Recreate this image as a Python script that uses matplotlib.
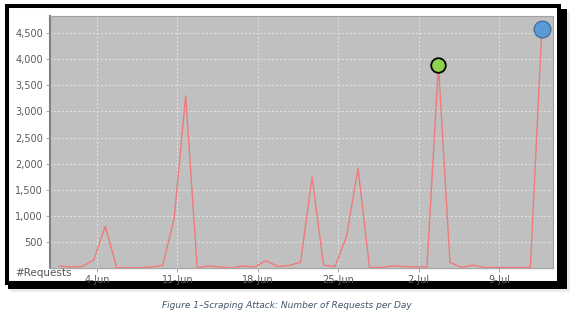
import matplotlib.pyplot as plt
import matplotlib.patches as mpatches
import datetime as dt

# Requests per day, 1-Jun to 13-Jul
start = dt.datetime(2017, 6, 1)
requests = [38, 20, 30, 155, 800, 5, 5, 5, 20, 50,
            950, 3300, 5, 40, 20, 0, 40, 20, 140, 30,
            50, 110, 1745, 55, 30, 610, 1905, 10, 10, 40,
            30, 20, 15, 3900, 110, 10, 55, 10, 10, 10,
            10, 10, 4580]
days = [start + dt.timedelta(days=i) for i in range(len(requests))]
tick_labels = ['4-Jun', '11-Jun', '18-Jun', '25-Jun', '2-Jul', '9-Jul']
tick_days = [start + dt.timedelta(days=3.28 + 7 * k) for k in range(len(tick_labels))]
y_ticks = [500, 1000, 1500, 2000, 2500, 3000, 3500, 4000, 4500]

W, H = 574, 317
fig = plt.figure(figsize=(W / 100, H / 100), dpi=100, facecolor='white')

def fig_rect(x0, y0, x1, y1, **kw):
    # rectangle in pixel coords (origin top-left)
    return mpatches.Rectangle((x0 / W, 1 - y1 / H), (x1 - x0) / W, (y1 - y0) / H,
                              transform=fig.transFigure, **kw)

# black frame with a drop shadow
fig.patches.extend([
    fig_rect(10, 12, 570, 292, facecolor='#ececec', edgecolor='none', zorder=0),
    fig_rect(8, 9, 567, 289, facecolor='black', edgecolor='none', zorder=0),
    fig_rect(7, 6, 559, 283, facecolor='white', edgecolor='black',
             linewidth=2.9, zorder=1),
])

ax = fig.add_axes([50 / W, 49 / H, 503 / W, 252 / H], zorder=2)
ax.set_facecolor('#c0c0c0')

ax.plot(days, requests, color='#f07a7a', linewidth=1.0, zorder=3)
ax.plot(days[33], requests[33], 'o', markersize=10.5, markerfacecolor='#8fd14f',
        markeredgecolor='black', markeredgewidth=1.3, zorder=4)
ax.plot(days[42], requests[42], 'o', markersize=12, markerfacecolor='#5b9bd5',
        markeredgecolor='#41719c', markeredgewidth=1.0, zorder=4, clip_on=False)

ax.set_xlim(start - dt.timedelta(days=0.81), start + dt.timedelta(days=42.97))
ax.set_ylim(0, 4830)
ax.set_xticks(tick_days)
ax.set_xticklabels(tick_labels)
ax.set_yticks(y_ticks)
ax.set_yticklabels([f'{v:,}' for v in y_ticks])

ax.grid(True, color='#e4e4e4', linestyle=(0, (2, 2)), linewidth=0.7)
ax.set_axisbelow(True)
ax.tick_params(axis='both', labelsize=7, colors='#5a5a5a', length=3,
               width=0.6, pad=2)
ax.tick_params(axis='y', color='#999999')
ax.tick_params(axis='x', color='#999999', pad=2)

for side in ['top', 'right']:
    ax.spines[side].set_color('#a0a0a0')
    ax.spines[side].set_linewidth(0.8)
ax.spines['left'].set_color('#808080')
ax.spines['left'].set_linewidth(1.5)
ax.spines['bottom'].set_color('#a8a8a8')
ax.spines['bottom'].set_linewidth(1.0)

fig.text(15 / W, 1 - 273 / H, '#Requests', fontsize=7.5, color='#555555',
         va='center', ha='left', zorder=3)

fig.text(287 / W, 1 - 306 / H,
         'Figure 1\u2013Scraping Attack: Number of Requests per Day',
         fontsize=6.5, style='italic', color='#44546a', ha='center', va='center')

fig.savefig('out.png', dpi=100, facecolor='white')
